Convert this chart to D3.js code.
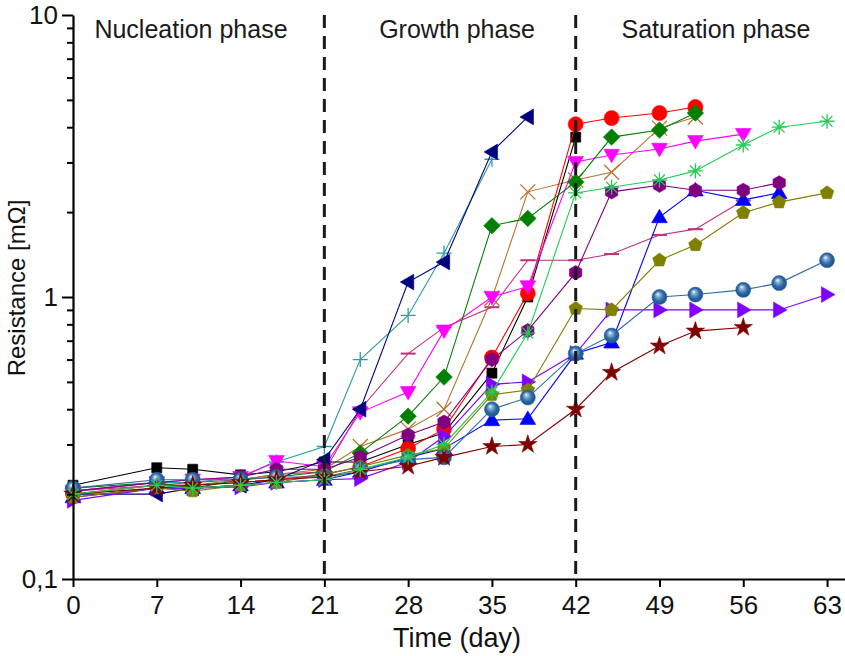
<!DOCTYPE html>
<html>
<head>
<meta charset="utf-8">
<script src="https://cdn.jsdelivr.net/npm/d3@7"></script>
<style>
  body { margin: 0; background: #fff; }
  svg { display: block; }
</style>
</head>
<body>
<div id="chart"></div>
<script>
// measurement days
const days = [0, 7, 10, 14, 17, 21, 24, 28, 31, 35, 38, 42, 45, 49, 52, 56, 59, 63];

// resistance per sample (mOhm), null = no measurement
const sqBlack        = [0.215, 0.248, 0.245, 0.234, 0.24, 0.26, 0.26, 0.30, 0.33, 0.537, 1.0, 3.69, null, null, null, null, null, null];
const circleRed      = [0.20, 0.215, 0.215, 0.22, 0.225, 0.235, 0.25, 0.29, 0.34, 0.61, 1.03, 4.1, 4.31, 4.49, 4.72, null, null, null];
const triUpBlue      = [0.195, 0.21, 0.21, 0.215, 0.22, 0.225, 0.24, 0.27, 0.29, 0.366, 0.37, 0.63, 0.69, 1.92, 2.39, 2.21, 2.34, null];
const triDownMagenta = [0.205, 0.22, 0.225, 0.23, 0.262, 0.25, 0.39, 0.46, 0.76, 1.0, 1.09, 3.01, 3.19, 3.35, 3.57, 3.78, null, null];
const triLeftNavy    = [0.20, 0.20, 0.21, 0.215, 0.225, 0.265, 0.40, 1.13, 1.33, 3.27, 4.35, null, null, null, null, null, null, null];
const triRightViolet = [0.19, 0.21, 0.21, 0.212, 0.22, 0.225, 0.227, 0.26, 0.32, 0.49, 0.50, 0.63, 0.90, 0.90, 0.90, 0.90, 0.90, 1.02];
const diamondGreen   = [0.21, 0.22, 0.21, 0.225, 0.23, 0.24, 0.28, 0.378, 0.52, 1.79, 1.90, 2.56, 3.69, 3.91, 4.49, null, null, null];
const hexPurple      = [0.205, 0.22, 0.225, 0.23, 0.245, 0.245, 0.27, 0.324, 0.36, 0.60, 0.76, 1.22, 2.36, 2.49, 2.39, 2.39, 2.54, null];
const pentOlive      = [0.195, 0.21, 0.205, 0.215, 0.22, 0.235, 0.25, 0.275, 0.29, 0.45, 0.468, 0.91, 0.90, 1.35, 1.53, 1.99, 2.17, 2.34];
const sphereSteel    = [0.21, 0.225, 0.225, 0.225, 0.23, 0.23, 0.245, 0.265, 0.27, 0.40, 0.44, 0.63, 0.73, 1.0, 1.02, 1.06, 1.12, 1.35];
const plusCyan       = [0.205, 0.22, 0.22, 0.23, 0.26, 0.295, 0.60, 0.86, 1.43, 3.08, null, null, null, null, null, null, null, null];
const crossBrown     = [0.20, 0.215, 0.215, 0.225, 0.235, 0.245, 0.295, 0.34, 0.40, 0.99, 2.36, 2.6, 2.77, 3.97, 4.35, null, null, null];
const dashPink       = [0.205, 0.215, 0.22, 0.225, 0.235, 0.24, 0.40, 0.63, 0.78, 0.92, 1.35, 1.35, 1.42, 1.66, 1.74, 2.2, null, null];
const asteriskGreen  = [0.20, 0.215, 0.21, 0.215, 0.22, 0.225, 0.245, 0.27, 0.30, 0.46, 0.745, 2.34, 2.45, 2.6, 2.8, 3.46, 4.0, 4.2];
const starWine       = [0.20, 0.21, 0.215, 0.22, 0.225, 0.23, 0.24, 0.251, 0.27, 0.295, 0.30, 0.40, 0.54, 0.67, 0.757, 0.78, null, null];

const xTicks = [0, 7, 14, 21, 28, 35, 42, 49, 56, 63];
const yTicks = [0.1, 1, 10];
const yTickLabels = ['0,1', '1', '10'];
const phaseBounds = [21, 42];
const phaseLabels = ['Nucleation phase', 'Growth phase', 'Saturation phase'];

const series = [
  { values: plusCyan,       shape: 'plus',     color: '#2a9d9d' },
  { values: dashPink,       shape: 'dash',     color: '#c0307a' },
  { values: crossBrown,     shape: 'x',        color: '#b8732e' },
  { values: sqBlack,        shape: 'square',   color: '#000000' },
  { values: circleRed,      shape: 'circle',   color: '#ff0000' },
  { values: triUpBlue,      shape: 'up',       color: '#0000ff' },
  { values: triDownMagenta, shape: 'down',     color: '#ff00ff' },
  { values: triLeftNavy,    shape: 'left',     color: '#000080' },
  { values: triRightViolet, shape: 'right',    color: '#8000ff' },
  { values: diamondGreen,   shape: 'diamond',  color: '#008000' },
  { values: hexPurple,      shape: 'hexagon',  color: '#800080' },
  { values: pentOlive,      shape: 'pentagon', color: '#808000' },
  { values: sphereSteel,    shape: 'sphere',   color: '#2d6aa5' },
  { values: starWine,       shape: 'star',     color: '#800000' },
  { values: asteriskGreen,  shape: 'asterisk', color: '#22cc55' }
];

const FONT = '"Liberation Sans", Arial, sans-serif';
const W = 845, H = 656;
const X0 = 73, X1 = 845, Y0 = 579, Y1 = 15;

const svg = d3.select('#chart').append('svg')
  .attr('width', W).attr('height', H)
  .attr('font-family', FONT);

const defs = svg.append('defs');
const grad = defs.append('radialGradient').attr('id', 'sphere')
  .attr('cx', '50%').attr('cy', '50%').attr('r', '55%')
  .attr('fx', '38%').attr('fy', '30%');
grad.append('stop').attr('offset', '0%').attr('stop-color', '#ffffff');
grad.append('stop').attr('offset', '22%').attr('stop-color', '#8fb4da');
grad.append('stop').attr('offset', '60%').attr('stop-color', '#2d6aa5');
grad.append('stop').attr('offset', '100%').attr('stop-color', '#1b4a7e');

const x = d3.scaleLinear().domain([0, 64.5]).range([X0, X1]);
const y = d3.scaleLog().domain([0.1, 10]).range([Y0, Y1]);

// marker paths
function polygon(n, r, rot) {
  const pts = d3.range(n).map(i => {
    const a = rot + i * 2 * Math.PI / n;
    return [r * Math.sin(a), -r * Math.cos(a)];
  });
  return 'M' + pts.map(p => p.join(',')).join('L') + 'Z';
}
function shapePath(shape) {
  const r = 7.5;
  switch (shape) {
    case 'square':   return polygon(4, r * 0.95, Math.PI / 4);
    case 'circle':
    case 'sphere':   return d3.symbol(d3.symbolCircle, Math.PI * r * r)();
    case 'up':       return 'M0,' + (-r * 1.05) + 'L' + (r * 1.05) + ',' + (r * 0.75) + 'L' + (-r * 1.05) + ',' + (r * 0.75) + 'Z';
    case 'down':     return 'M0,' + (r * 1.05) + 'L' + (r * 1.05) + ',' + (-r * 0.75) + 'L' + (-r * 1.05) + ',' + (-r * 0.75) + 'Z';
    case 'left':     return 'M' + (-r * 1.05) + ',0L' + (r * 0.75) + ',' + (-r * 1.05) + 'L' + (r * 0.75) + ',' + (r * 1.05) + 'Z';
    case 'right':    return 'M' + (r * 1.05) + ',0L' + (-r * 0.75) + ',' + (-r * 1.05) + 'L' + (-r * 0.75) + ',' + (r * 1.05) + 'Z';
    case 'diamond':  return polygon(4, r * 1.1, 0);
    case 'hexagon':  return polygon(6, r * 0.95, 0);
    case 'pentagon': return polygon(5, r * 0.95, 0);
    case 'star':     return d3.symbol(d3.symbolStar, 105)();
    case 'plus':     return `M${-r},0H${r}M0,${-r}V${r}`;
    case 'x':        return `M${-r},${-r}L${r},${r}M${-r},${r}L${r},${-r}`;
    case 'dash':     return `M${-r},0H${r}`;
    case 'asterisk': {
      const d = r * 0.72;
      return `M${-r},0H${r}M0,${-r}V${r}M${-d},${-d}L${d},${d}M${-d},${d}L${d},${-d}`;
    }
  }
}
const openShapes = ['plus', 'x', 'dash', 'asterisk'];

// data lines and markers
const line = d3.line()
  .defined(d => d.v != null)
  .x(d => x(d.day))
  .y(d => y(d.v));

const $vis = svg.append('g').attr('class', 'g-vis');

series.forEach(s => {
  const pts = days.map((day, i) => ({ day: day, v: s.values[i] }));
  const g = $vis.append('g');
  g.append('path')
    .datum(pts)
    .attr('d', line)
    .attr('fill', 'none')
    .attr('stroke', s.color)
    .attr('stroke-width', 1.1);
  const open = openShapes.includes(s.shape);
  g.selectAll('path.mark')
    .data(pts.filter(d => d.v != null))
    .join('path')
    .attr('class', 'mark')
    .attr('transform', d => `translate(${x(d.day)},${y(d.v)})`)
    .attr('d', shapePath(s.shape))
    .attr('fill', open ? 'none' : (s.shape === 'sphere' ? 'url(#sphere)' : s.color))
    .attr('stroke', s.color)
    .attr('stroke-width', open ? (s.shape === 'dash' ? 2 : 1.3) : 0.6);
});

// phase separators
svg.append('g').selectAll('line')
  .data(phaseBounds)
  .join('line')
  .attr('x1', d => x(d)).attr('x2', d => x(d))
  .attr('y1', Y1).attr('y2', Y0)
  .attr('stroke', '#1a1a1a')
  .attr('stroke-width', 3)
  .attr('stroke-dasharray', '13,8');

// phase labels
const phaseX = [191, 457, 716];
svg.append('g').selectAll('text')
  .data(phaseLabels)
  .join('text')
  .attr('x', (d, i) => phaseX[i])
  .attr('y', 38)
  .attr('text-anchor', 'middle')
  .attr('font-size', 25)
  .attr('fill', '#1a1a1a')
  .text(d => d);

// x axis
const axisX = svg.append('g')
  .attr('transform', `translate(0,${Y0})`)
  .call(d3.axisBottom(x).tickValues(xTicks).tickSize(8).tickSizeOuter(0).tickPadding(9))
  .attr('font-family', FONT);
axisX.select('.domain').attr('stroke-width', 2.2);
axisX.selectAll('.tick line').attr('stroke-width', 2);
axisX.selectAll('.tick text').attr('font-size', 26).attr('fill', '#111');

// y axis, major
const axisY = svg.append('g')
  .attr('transform', `translate(${X0},0)`)
  .call(d3.axisLeft(y).tickValues(yTicks).tickSize(11).tickSizeOuter(0).tickPadding(4)
    .tickFormat((d, i) => yTickLabels[i]))
  .attr('font-family', FONT);
axisY.select('.domain').attr('stroke-width', 2.2);
axisY.selectAll('.tick line').attr('stroke-width', 2);
axisY.selectAll('.tick text').attr('font-size', 26).attr('fill', '#111');

// y axis, minor
const minor = [2, 3, 4, 5, 6, 7, 8, 9].flatMap(m => [m / 10, m]);
const axisYMinor = svg.append('g')
  .attr('transform', `translate(${X0},0)`)
  .call(d3.axisLeft(y).tickValues(minor).tickSize(6).tickSizeOuter(0).tickFormat(''));
axisYMinor.select('.domain').remove();
axisYMinor.selectAll('.tick line').attr('stroke-width', 2);

// axis titles
svg.append('text')
  .attr('x', 457).attr('y', 647)
  .attr('text-anchor', 'middle')
  .attr('font-size', 27)
  .attr('fill', '#111')
  .text('Time (day)');

svg.append('text')
  .attr('transform', 'translate(25,288) rotate(-90)')
  .attr('text-anchor', 'middle')
  .attr('font-size', 24)
  .attr('fill', '#111')
  .text('Resistance [mΩ]');
</script>
</body>
</html>
